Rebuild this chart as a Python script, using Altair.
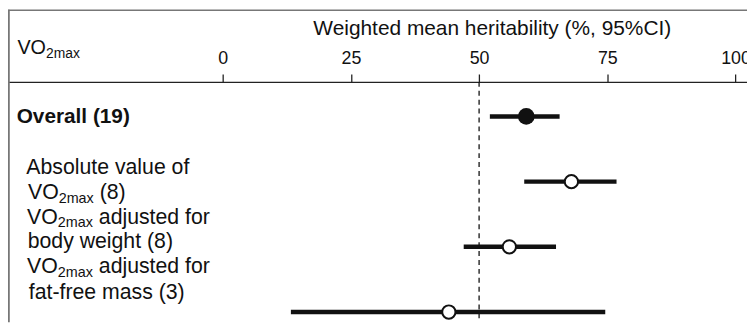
import altair as alt
import pandas as pd

# ---------------- data ----------------
categories = ["Overall (19)",
              "Absolute value of VO2max (8)",
              "VO2max adjusted for body weight (8)",
              "VO2max adjusted for fat-free mass (3)"]
rows = [0, 1, 2, 3]
kinds = ["overall", "subgroup", "subgroup", "subgroup"]
means = [59.2, 68.0, 55.9, 44.1]
ci_low = [52.1, 58.8, 47.0, 13.3]
ci_high = [65.7, 76.8, 65.0, 74.6]
tick_values = [0, 25, 50, 75, 100]
reference_value = [50]
axis_title = "Weighted mean heritability (%, 95%CI)"
header_main, header_sub = "VO", "2max"

df = pd.DataFrame({"category": categories, "row": rows, "kind": kinds,
                   "mean": means, "lo": ci_low, "hi": ci_high})
df_ref = pd.DataFrame({"v": reference_value})

# ---------------- layout ----------------
W, H, TOP = 747, 243, 73
FONT = "Liberation Sans"
INK = "#111111"
LFS = 21.5   # label font size
SFS = 14.5   # subscript font size

x_scale = alt.Scale(domain=[-41.86, 102.24], nice=False, zero=False)
y_scale = alt.Scale(domain=[-0.5296, 3.158], reverse=True, nice=False, zero=False)

x_axis = alt.Axis(orient="top", values=tick_values, title=axis_title,
                  titleX=489, titleY=-47.7, titleBaseline="alphabetic",
                  titleAlign="center", titleFontSize=21.1, titleFontWeight="normal",
                  titleColor=INK, titleFont=FONT,
                  labelFont=FONT, labelFontSize=18, labelColor=INK,
                  labelBaseline="alphabetic", labelPadding=10.5,
                  labelFlush=False, labelOverlap=False,
                  tickSize=8, tickColor="#222222", tickWidth=1.3,
                  domainColor="#222222", domainWidth=1.2, grid=False)

def X(field):
    return alt.X(field, type="quantitative", scale=x_scale, axis=x_axis)

def Y(field):
    return alt.Y(field, type="quantitative", scale=y_scale, axis=None)

# Arial / Liberation Sans advance widths (per 1000 em)
AW = {'V': 667, 'O': 778, '2': 556, 'm': 833, 'a': 556, 'x': 500, ' ': 278}
def adv(s, fs):
    return sum(AW[c] for c in s) * fs / 1000.0

def text_piece(t, px, py, fs, weight="normal"):
    return alt.Chart(pd.DataFrame({"t": [t]})).mark_text(
        font=FONT, fontSize=fs, fontWeight=weight, color=INK,
        align="left", baseline="alphabetic"
    ).encode(text="t:N", x=alt.value(px), y=alt.value(py))

def vo_line(px, py, rest, fs=LFS, sfs=SFS, drop=3.5):
    w1 = adv(header_main, fs)
    w2 = adv(header_sub, sfs)
    out = [text_piece(header_main, px, py, fs),
           text_piece(header_sub, px + w1, py + drop, sfs)]
    if rest:
        out.append(text_piece(rest, px + w1 + w2 + adv(" ", fs), py, fs))
    return out

labels = []
labels += vo_line(9.5, -28.3, "", fs=20, sfs=14, drop=4)          # header
labels.append(text_piece("Overall (19)", 8.8, 41.3, 21, "bold"))
labels.append(text_piece("Absolute value of", 18.5, 93, LFS))
labels += vo_line(20.2, 118.5, "(8)")
labels += vo_line(19.3, 143.5, "adjusted for")
labels.append(text_piece("body weight (8)", 19.9, 168, LFS))
labels += vo_line(19.3, 193.5, "adjusted for")
labels.append(text_piece("fat-free mass (3)", 21, 219, LFS))

# borders
top_border = alt.Chart(pd.DataFrame({"k": [0]})).mark_rule(
    color="#777777", strokeWidth=1.6
).encode(x=alt.value(0), x2=alt.value(W), y=alt.value(-72.4))
left_border = alt.Chart(pd.DataFrame({"k": [0]})).mark_rule(
    color="#777777", strokeWidth=1.8
).encode(x=alt.value(0.9), y=alt.value(-73), y2=alt.value(H))

ref_line = alt.Chart(df_ref).mark_rule(
    color=INK, strokeWidth=1.3, strokeDash=[5, 4]
).encode(x=X("v"))

ci = alt.Chart(df).mark_rule(color=INK, strokeWidth=4.5, strokeCap="butt").encode(
    x=X("lo"), x2="hi", y=Y("row"))

dot_overall = alt.Chart(df).transform_filter(alt.datum.kind == "overall").mark_point(
    shape="circle", filled=True, color=INK, size=283, opacity=1
).encode(x=X("mean"), y=Y("row"))

dot_sub = alt.Chart(df).transform_filter(alt.datum.kind == "subgroup").mark_point(
    shape="circle", filled=False, fill="white", fillOpacity=1, stroke=INK,
    strokeWidth=2, size=180, opacity=1
).encode(x=X("mean"), y=Y("row"))

chart = alt.layer(
    ref_line, ci, dot_overall, dot_sub, top_border, left_border, *labels
).properties(
    width=W, height=H,
    padding={"left": 0, "right": 0, "top": TOP, "bottom": 0},
    autosize=alt.AutoSizeParams(type="none")
).configure(font=FONT).configure_view(strokeWidth=0)

chart.save("out.html", embed_options={"renderer": "svg", "actions": False})
